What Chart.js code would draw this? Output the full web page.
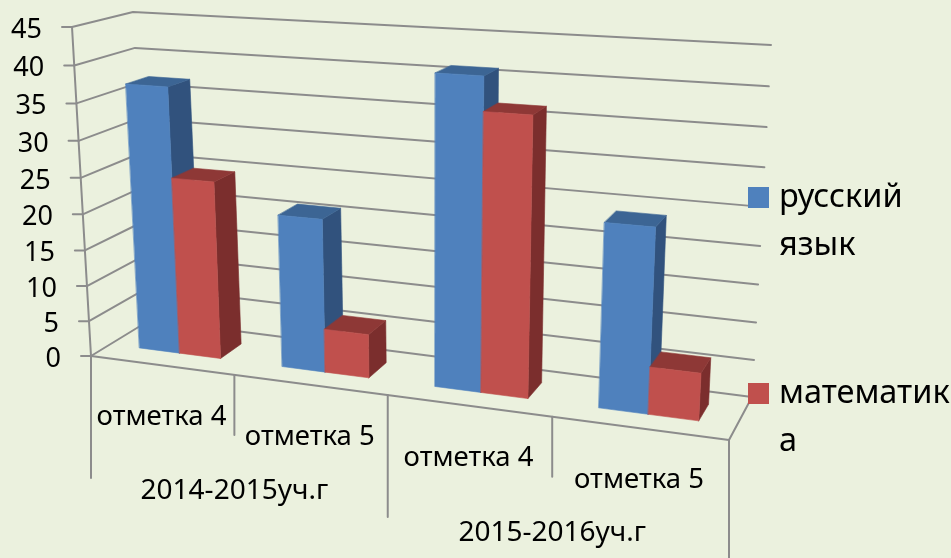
<!DOCTYPE html>
<html>
<head>
<meta charset="utf-8">
<script src="https://cdn.jsdelivr.net/npm/chart.js@4"></script>
<style>
  body { margin: 0; background: #ebf1de; }
  #wrap { width: 951px; height: 558px; }
</style>
</head>
<body>
<div id="wrap"><canvas id="chart" width="951" height="558"></canvas></div>
<script>
const markLabels = ["отметка 4", "отметка 5", "отметка 4", "отметка 5"];
const yearLabels = ["2014-2015уч.г", "2015-2016уч.г"];
const russianValues = [37, 21, 41, 24];
const mathValues = [24.7, 6, 36.6, 6.2];
const seriesNames = ["русский язык", "математика"];
const legendLines = [["русский", "язык"], ["математик", "а"]];

const GRID = "#8c8c8c";
const FONT = '"Noto Sans", sans-serif';
const FACES = [
  { front: "#4f81bd", top: "#3c6594", side: "#31527d" },
  { front: "#c0504d", top: "#8e3836", side: "#7b2e2d" },
];

// the plot box corners in the picture: bottom left, bottom right, top right, top left
const FRONT_QUAD = [[91, 356], [729, 440], [750, 64], [72, 27]];
const BACK_QUAD = [[150, 320], [752, 397], [771, 45], [133, 12]];
const BAR_NEAR = 0.33;
const BAR_FAR = 0.72;

function quadMapper(q) {
  const [p0, p1, p2, p3] = q;
  const dx1 = p1[0] - p2[0], dx2 = p3[0] - p2[0], dx3 = p0[0] - p1[0] + p2[0] - p3[0];
  const dy1 = p1[1] - p2[1], dy2 = p3[1] - p2[1], dy3 = p0[1] - p1[1] + p2[1] - p3[1];
  const det = dx1 * dy2 - dx2 * dy1;
  const g = (dx3 * dy2 - dx2 * dy3) / det;
  const h = (dx1 * dy3 - dx3 * dy1) / det;
  const a = p1[0] - p0[0] + g * p1[0], b = p3[0] - p0[0] + h * p3[0];
  const d = p1[1] - p0[1] + g * p1[1], e = p3[1] - p0[1] + h * p3[1];
  return (u, v) => {
    const w = g * u + h * v + 1;
    return [(a * u + b * v + p0[0]) / w, (d * u + e * v + p0[1]) / w];
  };
}
const frontMap = quadMapper(FRONT_QUAD);
const backMap = quadMapper(BACK_QUAD);

function project(u, v, depth) {
  const f = frontMap(u, v);
  const b = backMap(u, v);
  return [f[0] + (b[0] - f[0]) * depth, f[1] + (b[1] - f[1]) * depth];
}

function polyline(ctx, pts, color, width) {
  ctx.beginPath();
  pts.forEach((p, i) => (i ? ctx.lineTo(p[0], p[1]) : ctx.moveTo(p[0], p[1])));
  ctx.strokeStyle = color;
  ctx.lineWidth = width;
  ctx.stroke();
}

function face(ctx, pts, color) {
  ctx.beginPath();
  pts.forEach((p, i) => (i ? ctx.lineTo(p[0], p[1]) : ctx.moveTo(p[0], p[1])));
  ctx.closePath();
  ctx.fillStyle = color;
  ctx.fill();
  // stroke with the same colour so neighbouring faces leave no seam
  ctx.strokeStyle = color;
  ctx.lineWidth = 0.6;
  ctx.stroke();
}

const box3d = {
  id: "box3d",
  beforeDatasetsDraw(chart) {
    const ctx = chart.ctx;
    const area = chart.chartArea;
    const xs = chart.scales.x;
    const ys = chart.scales.y;
    const toU = (px) => (px - area.left) / area.width;
    const toV = (py) => (area.bottom - py) / area.height;

    ctx.save();
    ctx.lineCap = "round";
    ctx.lineJoin = "round";

    // walls
    ys.ticks.forEach((tick) => {
      const v = toV(ys.getPixelForValue(tick.value));
      const a = project(0, v, 0);
      polyline(ctx, [a, project(0, v, 1), project(1, v, 1)], GRID, 2);
      polyline(ctx, [[a[0] - 10, a[1]], a], GRID, 2);
    });
    polyline(ctx, [project(1, 0, 1), project(1, 0, 0), project(0, 0, 0), project(0, 1, 0)], GRID, 2);

    // category separators below the floor
    markLabels.forEach((_, i) => {
      const p = project(toU(xs.getPixelForValue(i - 0.5)), 0, 0);
      polyline(ctx, [p, [p[0], p[1] + (i % 2 ? 60 : 122)]], GRID, 2);
    });
    const end = project(1, 0, 0);
    polyline(ctx, [end, [end[0], end[1] + 122]], GRID, 2);

    // bars, back to front inside each category
    markLabels.forEach((_, i) => {
      chart.data.datasets.forEach((ds, di) => {
        const bar = chart.getDatasetMeta(di).data[i].getProps(["x", "y", "base", "width"]);
        const u0 = toU(bar.x - bar.width / 2);
        const u1 = toU(bar.x + bar.width / 2);
        const v0 = toV(bar.base);
        const v1 = toV(bar.y);
        const c = FACES[di];
        face(ctx, [project(u1, v0, BAR_NEAR), project(u1, v0, BAR_FAR), project(u1, v1, BAR_FAR), project(u1, v1, BAR_NEAR)], c.side);
        face(ctx, [project(u0, v1, BAR_NEAR), project(u1, v1, BAR_NEAR), project(u1, v1, BAR_FAR), project(u0, v1, BAR_FAR)], c.top);
        face(ctx, [project(u0, v0, BAR_NEAR), project(u1, v0, BAR_NEAR), project(u1, v1, BAR_NEAR), project(u0, v1, BAR_NEAR)], c.front);
      });
    });

    // text
    ctx.fillStyle = "#000";
    ctx.textBaseline = "middle";
    ctx.textAlign = "right";
    ctx.font = "27px " + FONT;
    ys.ticks.forEach((tick) => {
      const a = project(0, toV(ys.getPixelForValue(tick.value)), 0);
      ctx.fillText(tick.label, a[0] - 30, a[1] + 3);
    });

    ctx.textAlign = "center";
    ctx.font = "27.5px " + FONT;
    markLabels.forEach((label, i) => {
      const p = project(toU(xs.getPixelForValue(i)), 0, 0);
      ctx.fillText(label, p[0], p[1] + 52);
    });
    ctx.font = "28px " + FONT;
    yearLabels.forEach((label, i) => {
      const p = project(toU(xs.getPixelForValue(i * 2 + 0.5)), 0, 0);
      ctx.fillText(label, p[0], p[1] + 116);
    });

    // legend sits on top of the grid ends
    const legendTop = [187, 383];
    ctx.textAlign = "left";
    ctx.font = "32.5px " + FONT;
    legendLines.forEach((lines, i) => {
      ctx.fillStyle = FACES[i].front;
      ctx.fillRect(748, legendTop[i], 21, 21);
      ctx.fillStyle = "#000";
      lines.forEach((line, n) => ctx.fillText(line, 779, legendTop[i] + 11 + n * 48));
    });
    ctx.restore();
    return false; // the library's flat bars are replaced by the boxes above
  },
};

new Chart(document.getElementById("chart"), {
  type: "bar",
  data: {
    labels: markLabels,
    datasets: [
      { label: seriesNames[0], data: russianValues, backgroundColor: FACES[0].front },
      { label: seriesNames[1], data: mathValues, backgroundColor: FACES[1].front },
    ],
  },
  options: {
    responsive: false,
    animation: false,
    categoryPercentage: 0.576,
    barPercentage: 1,
    layout: { padding: { left: 91, right: 222, top: 27, bottom: 202 } },
    plugins: { legend: { display: false }, tooltip: { enabled: false } },
    scales: {
      x: { display: false },
      y: { display: false, min: 0, max: 45, ticks: { stepSize: 5 } },
    },
  },
  plugins: [box3d],
});
</script>
</body>
</html>
